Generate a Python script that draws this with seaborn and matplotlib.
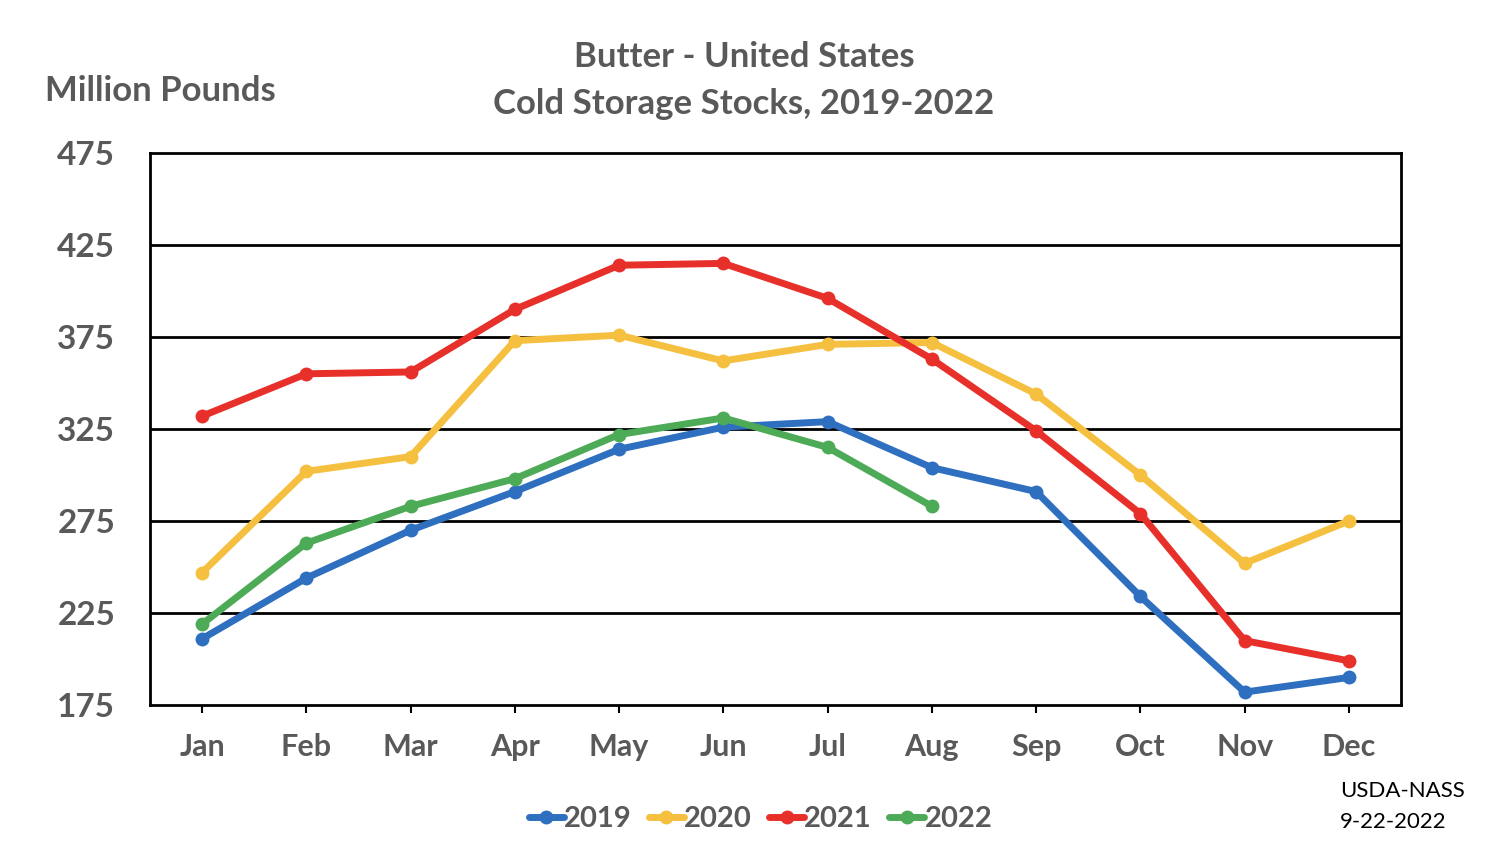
import pandas as pd
import numpy as np
import matplotlib.pyplot as plt
import seaborn as sns

# --- DATA ---
months = ['Jan', 'Feb', 'Mar', 'Apr', 'May', 'Jun', 'Jul', 'Aug', 'Sep', 'Oct', 'Nov', 'Dec']
stocks_2019 = [211, 244, 270, 291, 314, 326, 329, 304, 291, 234, 182, 190]
stocks_2020 = [247, 302, 310, 373, 376, 362, 371, 372, 344, 300, 252, 275]
stocks_2021 = [332, 355, 356, 390, 414, 415, 396, 363, 324, 279, 210, 199]
stocks_2022 = [219, 263, 283, 298, 322, 331, 315, 283]
years = ['2019', '2020', '2021', '2022']
colors = ['#2E6FC0', '#F5C040', '#E8302A', '#4DAA57']

rows = []
for yr, vals in zip(years, [stocks_2019, stocks_2020, stocks_2021, stocks_2022]):
    for i, v in enumerate(vals):
        rows.append({'month': i, 'year': yr, 'stocks': v})
df = pd.DataFrame(rows)

sns.set_style('white')
plt.rcParams['font.family'] = ['Lato', 'DejaVu Sans']
txt = '#595959'

fig = plt.figure(figsize=(15.12, 8.48), dpi=100)
ax = fig.add_axes([0.0992, 0.1686, 0.8274, 0.651])

sns.lineplot(data=df, x='month', y='stocks', hue='year', palette=colors,
             marker='o', markersize=10, markeredgewidth=0, linewidth=5,
             ax=ax, legend=False)

ax.set_xlim(-0.5, 11.5)
ax.set_ylim(175, 475)
ax.set_yticks(np.arange(175, 476, 50))
ax.set_xticks(range(12))
ax.set_xticklabels(months)
for y in range(225, 475, 50):
    ax.axhline(y, color='black', linewidth=2, zorder=0)
for s in ax.spines.values():
    s.set_color('black')
    s.set_linewidth(2)
ax.tick_params(axis='x', length=6, width=1.5, color='black', pad=14,
               labelsize=22, labelcolor=txt, direction='out', bottom=True)
ax.tick_params(axis='y', length=0, pad=25, labelsize=24, labelcolor=txt)
for lab in ax.get_xticklabels() + ax.get_yticklabels():
    lab.set_fontweight('bold')
ax.set_xlabel('')
ax.set_ylabel('')

fig.text(0.492, 0.933, 'Butter - United States', ha='center', va='center',
         fontsize=25, fontweight='bold', color=txt)
fig.text(0.492, 0.877, 'Cold Storage Stocks, 2019-2022', ha='center', va='center',
         fontsize=25, fontweight='bold', color=txt)
fig.text(0.03, 0.893, 'Million Pounds', ha='left', va='center',
         fontsize=25, fontweight='bold', color=txt)
fig.text(0.886, 0.049, 'USDA-NASS\n9-22-2022', ha='left', va='center',
         fontsize=16, color='black', linespacing=1.65)

handles = [plt.Line2D([], [], color=c, linewidth=5, marker='o', markersize=9)
           for c in colors]
leg = fig.legend(handles, years, loc='center', bbox_to_anchor=(0.503, 0.034),
                 ncol=4, frameon=False, handlelength=1.2, handletextpad=0.0,
                 columnspacing=0.6, prop={'size': 21, 'weight': 'bold'})
for t in leg.get_texts():
    t.set_color(txt)

fig.savefig('out.png', dpi=100)
